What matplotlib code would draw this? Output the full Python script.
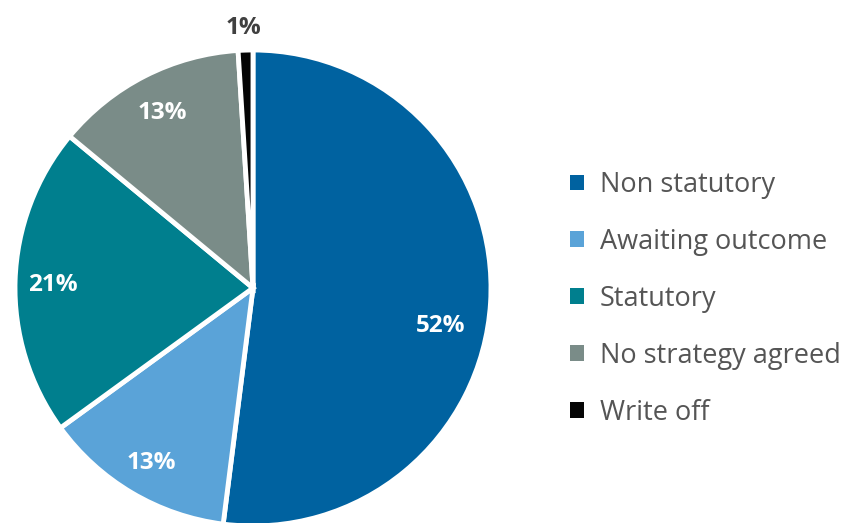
import matplotlib.pyplot as plt
from matplotlib.patches import Patch

categories = ["Non statutory", "Awaiting outcome", "Statutory", "No strategy agreed", "Write off"]
shares = [52, 13, 21, 13, 1]
colors = ["#0062A0", "#5AA3D8", "#007F8E", "#7A8C88", "#050505"]

plt.rcParams['font.family'] = ['Open Sans', 'DejaVu Sans']

fig = plt.figure(figsize=(8.47, 5.23), dpi=100)
# pie box: centre (253, 288) px, radius 238 px
cx, cy, r = 253, 288, 238
ax = fig.add_axes([(cx - r) / 847, (523 - cy - r) / 523, 2 * r / 847, 2 * r / 523])
wedges, texts, autotexts = ax.pie(shares, colors=colors, startangle=90, counterclock=False,
                                  autopct='%d%%', pctdistance=0.84,
                                  wedgeprops=dict(edgecolor='white', linewidth=3.5))
ax.set_xlim(-1, 1); ax.set_ylim(-1, 1)
ax.set_aspect('auto')
for t in autotexts:
    t.set_color('white'); t.set_fontsize(17.5); t.set_fontweight('bold')
    t.set_verticalalignment('center_baseline')
autotexts[0].set_position((0.79, -0.145))
autotexts[-1].set_position((-0.04, 1.105)); autotexts[-1].set_color('#404040')
autotexts[-1].set_clip_on(False)

handles = [Patch(facecolor=c, edgecolor='none') for c in colors]
leg = fig.legend(handles, categories, loc='upper left', bbox_to_anchor=(570 / 847, 1 - 171 / 523),
                 frameon=False, fontsize=19.5, labelspacing=1.07, handlelength=0.52, handleheight=0.52,
                 handletextpad=0.59, borderaxespad=0, borderpad=0)
for t in leg.get_texts():
    t.set_color('#555555')

plt.savefig('out.png', dpi=100)
